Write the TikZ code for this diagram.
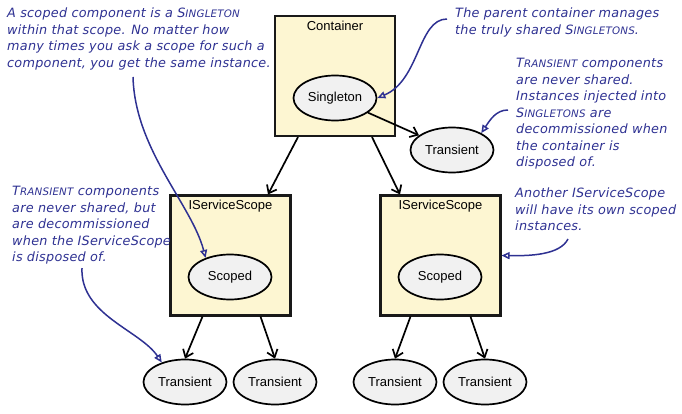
\documentclass[tikz,border=0pt]{standalone}
\usepackage{fontspec}
\setmainfont{Liberation Sans}
\newfontfamily\handfont{DejaVu Sans}[LetterSpace=2]
\usetikzlibrary{shapes.geometric,arrows.meta}
\definecolor{notecol}{RGB}{46,49,146}
\definecolor{boxfill}{RGB}{253,246,210}
\definecolor{compfill}{RGB}{241,241,241}
\newcommand\smcap[2]{#1{\fontsize{10.3}{10}\selectfont#2}}

\begin{document}
\begin{tikzpicture}[x=1pt,y=-1pt,
  box/.style={draw=black!90,line width=2.1pt,fill=boxfill,minimum width=120pt,minimum height=120pt,inner sep=0},
  boxlbl/.style={anchor=north,inner sep=0,font=\fontsize{13}{15}\selectfont},
  comp/.style={ellipse,draw,line width=1.7pt,fill=compfill,minimum width=83pt,minimum height=45pt,inner sep=0,font=\fontsize{13}{15}\selectfont},
  dep/.style={-{Straight Barb[length=7pt,width=11pt]},line width=1.7pt},
  note/.style={anchor=north west,inner sep=0,align=left,text=notecol,font=\handfont\itshape\fontsize{12.8}{16.5}\selectfont},
  notearr/.style={-{Triangle[open,length=8pt,width=7pt]},draw=notecol,line width=1.5pt}]
\useasboundingbox (0,0) rectangle (682,414);

\node[box] (cont) at (335,76) {};
\node[boxlbl] (contlbl) at ([yshift=-6pt]cont.north) {Container};
\node[comp] (sing) at (335,98) {Singleton};
\node[comp] (trtop) at (452,150) {Transient};

\node[box] (lscope) at (230.5,255.5) {};
\node[boxlbl] (lscopelbl) at ([yshift=-5pt]lscope.north) {IServiceScope};
\node[comp] (lscoped) at (230,277) {Scoped};
\node[box] (rscope) at (440.5,255.5) {};
\node[boxlbl] (rscopelbl) at ([yshift=-5pt]rscope.north) {IServiceScope};
\node[comp] (rscoped) at (440,277) {Scoped};

\node[comp] (lt1) at (185,382) {Transient};
\node[comp] (lt2) at (275,382) {Transient};
\node[comp] (rt1) at (395,382) {Transient};
\node[comp] (rt2) at (485,382) {Transient};

\draw[dep] ([xshift=-37pt]cont.south) -- ([xshift=37.5pt]lscope.north);
\draw[dep] ([xshift=37pt]cont.south) -- ([xshift=-40.5pt]rscope.north);
\draw[dep] (sing) -- (trtop);
\draw[dep] ([xshift=-28pt]lscope.south) -- (lt1.north);
\draw[dep] ([xshift=30pt]lscope.south) -- (lt2.north);
\draw[dep] ([xshift=-30pt]rscope.south) -- (rt1.north);
\draw[dep] ([xshift=30pt]rscope.south) -- (rt2.north);

\node[note] (note1) at (7,8) {A scoped component is a \smcap{S}{INGLETON}\\within that scope. No matter how\\many times you ask a scope for such a\\component, you get the same instance.};
\node[note] (note2) at (455,8) {The parent container manages\\the truly shared \smcap{S}{INGLETONS}.};
\node[note] (note3) at (516,58) {\smcap{T}{RANSIENT} components\\are never shared.\\Instances injected into\\\smcap{S}{INGLETONS} are\\decommissioned when\\the container is\\disposed of.};
\node[note] (note4) at (12,186) {\smcap{T}{RANSIENT} components\\are never shared, but\\are decommissioned\\when the IServiceScope\\is disposed of.};
\node[note] (note5) at (515,188) {Another IServiceScope\\will have its own scoped\\instances.};

\coordinate (n1tail) at (133,77);
\coordinate (n2tail) at (447,19);
\coordinate (n3tail) at (508,110);
\coordinate (n4tail) at (82,268);
\coordinate (n5tail) at (568,239);
\draw[notearr] (n1tail) .. controls (135,150) and (192,205) .. (lscoped.142);
\draw[notearr] (n2tail) .. controls (418,19) and (420,80) .. (sing.east);
\draw[notearr] (n3tail) .. controls (496,110) and (490,120) .. (trtop.30);
\draw[notearr] (n4tail) .. controls (80,315) and (140,330) .. (lt1.140);
\draw[notearr] (n5tail) .. controls (560,255) and (530,256) .. (rscope.east);
\end{tikzpicture}
\end{document}
